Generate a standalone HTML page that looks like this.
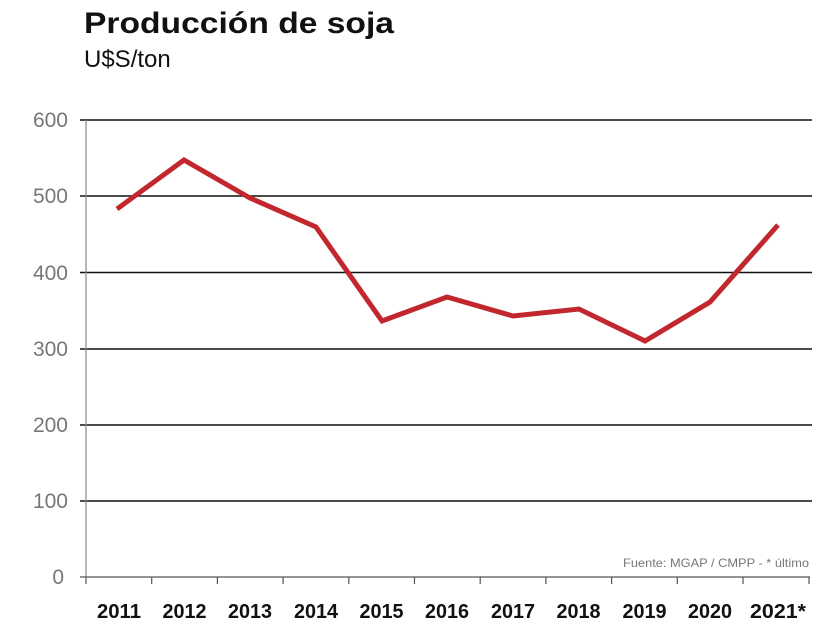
<!DOCTYPE html>
<html><head><meta charset="utf-8"><style>
body{margin:0;background:#fff;width:840px;height:632px;overflow:hidden}
</style></head><body>
<svg width="840" height="632" xmlns="http://www.w3.org/2000/svg" font-family="Liberation Sans, sans-serif">
<text x="84" y="33" font-size="30" font-weight="bold" fill="#111" textLength="310" lengthAdjust="spacingAndGlyphs">Producción de soja</text>
<text x="84" y="67" font-size="24" fill="#111">U$S/ton</text>
<g stroke="#111" stroke-width="1.6">
<line x1="80" y1="120" x2="812" y2="120"/>
<line x1="80" y1="196" x2="812" y2="196"/>
<line x1="80" y1="272.5" x2="812" y2="272.5"/>
<line x1="80" y1="349" x2="812" y2="349"/>
<line x1="80" y1="425" x2="812" y2="425"/>
<line x1="80" y1="501" x2="812" y2="501"/>
</g>
<line x1="86" y1="120" x2="86" y2="577" stroke="#888" stroke-width="1.2"/>
<line x1="80" y1="577" x2="810" y2="577" stroke="#555" stroke-width="1.2"/>
<g stroke="#555" stroke-width="1.2">
<line x1="86" y1="577" x2="86" y2="584"/><line x1="151.7" y1="577" x2="151.7" y2="584"/><line x1="217.4" y1="577" x2="217.4" y2="584"/><line x1="283.1" y1="577" x2="283.1" y2="584"/><line x1="348.8" y1="577" x2="348.8" y2="584"/><line x1="414.5" y1="577" x2="414.5" y2="584"/><line x1="480.2" y1="577" x2="480.2" y2="584"/><line x1="545.9" y1="577" x2="545.9" y2="584"/><line x1="611.6" y1="577" x2="611.6" y2="584"/><line x1="677.3" y1="577" x2="677.3" y2="584"/><line x1="743" y1="577" x2="743" y2="584"/><line x1="809" y1="577" x2="809" y2="584"/>
</g>
<g font-size="21" fill="#777" text-anchor="end">
<text x="68" y="127">600</text><text x="68" y="203">500</text><text x="68" y="280">400</text><text x="68" y="356">300</text><text x="68" y="432">200</text><text x="68" y="508">100</text><text x="64" y="584">0</text>
</g>
<text x="809" y="567" font-size="12" fill="#777" text-anchor="end" textLength="186" lengthAdjust="spacingAndGlyphs">Fuente: MGAP / CMPP - * último</text>
<g font-size="20" font-weight="bold" fill="#111" text-anchor="middle">
<text x="119" y="618" textLength="44" lengthAdjust="spacingAndGlyphs">2011</text><text x="184.5" y="618" textLength="44" lengthAdjust="spacingAndGlyphs">2012</text><text x="250" y="618" textLength="44" lengthAdjust="spacingAndGlyphs">2013</text><text x="316" y="618" textLength="44" lengthAdjust="spacingAndGlyphs">2014</text><text x="381.5" y="618" textLength="44" lengthAdjust="spacingAndGlyphs">2015</text><text x="447" y="618" textLength="44" lengthAdjust="spacingAndGlyphs">2016</text><text x="513" y="618" textLength="44" lengthAdjust="spacingAndGlyphs">2017</text><text x="578.5" y="618" textLength="44" lengthAdjust="spacingAndGlyphs">2018</text><text x="644.5" y="618" textLength="44" lengthAdjust="spacingAndGlyphs">2019</text><text x="710" y="618" textLength="44" lengthAdjust="spacingAndGlyphs">2020</text><text x="778" y="618" textLength="56" lengthAdjust="spacingAndGlyphs">2021*</text>
</g>
<polyline fill="none" stroke="#c1272d" stroke-width="5" stroke-linejoin="miter" points="117,209 184,160 250,198 316,227 382,321 447,297 513,316 579,309 645,341 710,302 778,225"/>
</svg>
</body></html>
